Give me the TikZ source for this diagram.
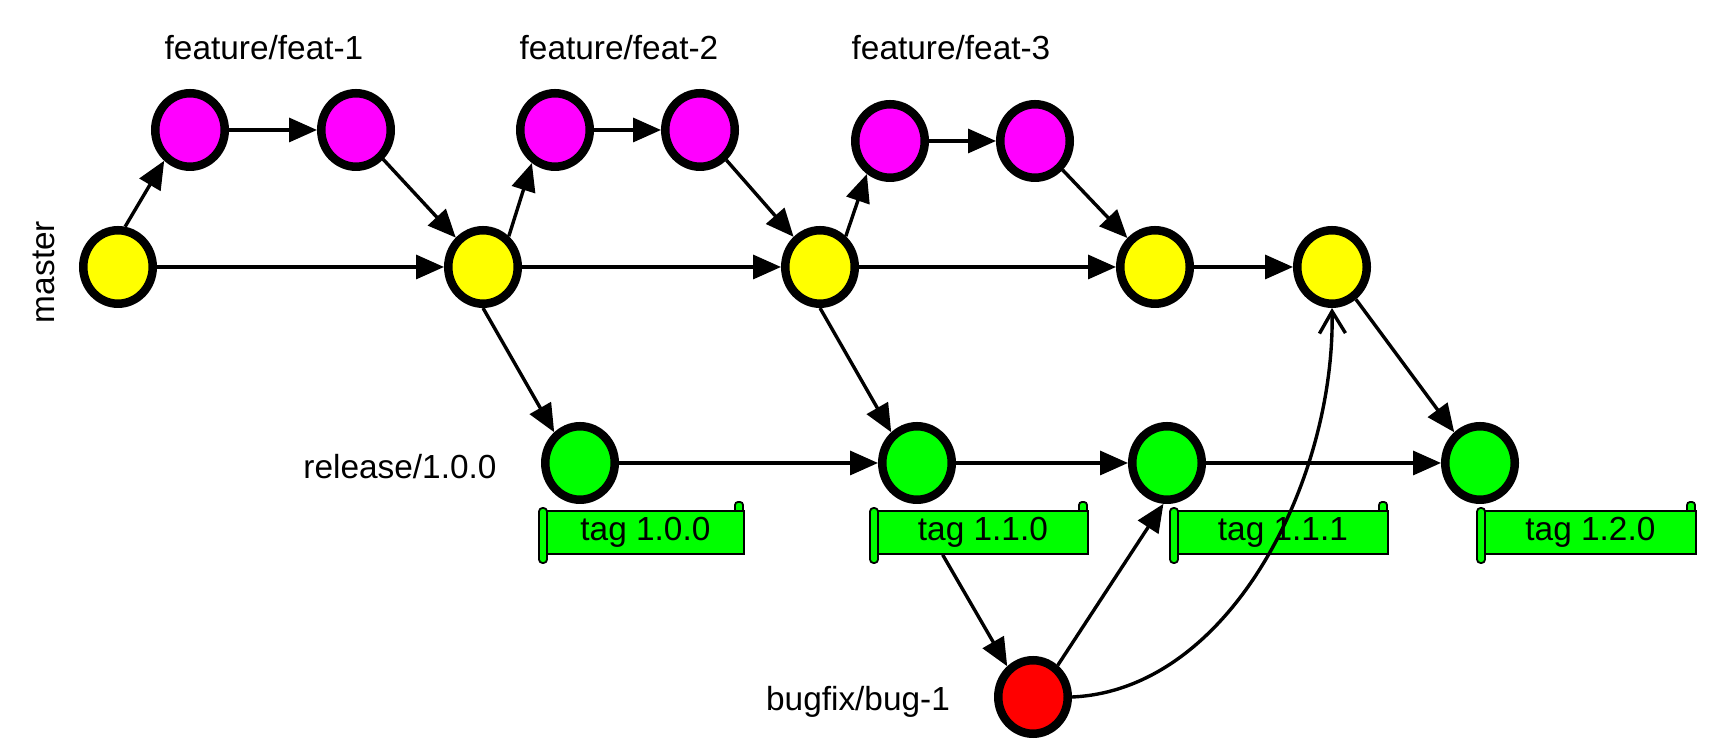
\documentclass[tikz,border=0pt]{standalone}
\usepackage{fontspec}
\setmainfont{Liberation Sans}
\usetikzlibrary{shapes.geometric,arrows.meta,calc}
\definecolor{featmag}{RGB}{255,0,255}
\definecolor{mastyel}{RGB}{255,255,0}
\definecolor{relgreen}{RGB}{0,255,0}
\definecolor{bugred}{RGB}{255,0,0}
\newcommand\tagat[4]{%
  \draw[tagline, rounded corners=0.3mm] (#3-8,502) rectangle (#3,514);
  \node[tagbox, minimum width={(#3-#2)*0.1mm}] (#1) at (#2,510) {#4\hspace{2.4mm}};
  \draw[tagline, rounded corners=0.35mm] (#2-7,508) rectangle (#2+1,563);
}
\begin{document}
\begin{tikzpicture}[x=0.1mm,y=-0.1mm,
  commit/.style={ellipse, draw=black, line width=0.85mm, minimum width=6.95mm, minimum height=7.35mm, inner sep=0pt},
  feat/.style={commit, fill=featmag},
  mast/.style={commit, fill=mastyel},
  rel/.style={commit, fill=relgreen},
  bug/.style={commit, fill=bugred},
  edge/.style={line width=0.34mm, -{Triangle[length=2.8mm,width=2.4mm]}},
  mergecurve/.style={line width=0.34mm, -{Straight Barb[length=2.2mm,width=2.6mm,line width=0.34mm]}},
  lbl/.style={font=\fontsize{9.5}{11.4}\selectfont, inner sep=0pt},
  tagline/.style={draw=black, fill=relgreen, line width=0.18mm},
  tagbox/.style={tagline, minimum height=4.3mm, inner sep=0pt, anchor=north west, font=\fontsize{9.5}{11.4}\selectfont},
]
\fill[white] (0,0) rectangle (1725,754);
\useasboundingbox (0,0) rectangle (1725,754);

% labels
\node[lbl] (lf1) at (264,48) {feature/feat-1};
\node[lbl] (lf2) at (619,48) {feature/feat-2};
\node[lbl] (lf3) at (951,48) {feature/feat-3};
\node[lbl, rotate=90] (lm) at (44,272) {master};
\node[lbl] (lr) at (400,467) {release/1.0.0};
\node[lbl] (lb) at (858,702) {bugfix/bug-1};

% tags
\tagat{t1}{546}{743}{tag 1.0.0}
\tagat{t2}{877}{1087}{tag 1.1.0}
\tagat{t3}{1177}{1387}{tag 1.1.1}
\tagat{t4}{1484}{1695}{tag 1.2.0}
\coordinate (t2out) at ($(t2.south west)!0.31!(t2.south east)$);

% commits
\node[mast] (m1) at (118,267) {};
\node[mast] (m2) at (483,267) {};
\node[mast] (m3) at (820,267) {};
\node[mast] (m4) at (1155,267) {};
\node[mast] (m5) at (1332,267) {};
\node[feat] (f1a) at (190,130) {};
\node[feat] (f1b) at (356,130) {};
\node[feat] (f2a) at (555,130) {};
\node[feat] (f2b) at (700,130) {};
\node[feat] (f3a) at (890,141) {};
\node[feat] (f3b) at (1035,141) {};
\node[rel] (g1) at (580,463) {};
\node[rel] (g2) at (917,463) {};
\node[rel] (g3) at (1167,463) {};
\node[rel] (g4) at (1480,463) {};
\node[bug] (red) at (1033,697) {};

% connectors
\draw[edge] (m1.80) -- (f1a.230);
\draw[edge] (f1a) -- (f1b);
\draw[edge] (f1b) -- (m2);
\draw[edge] (m1) -- (m2);
\draw[edge] (m2.50) -- (f2a.235);
\draw[edge] (f2a) -- (f2b);
\draw[edge] (f2b) -- (m3);
\draw[edge] (m2) -- (m3);
\draw[edge] (m2.south) -- (g1.130);
\draw[edge] (m3.50) -- (f3a.235);
\draw[edge] (f3a) -- (f3b);
\draw[edge] (f3b) -- (m4);
\draw[edge] (m3) -- (m4);
\draw[edge] (m4) -- (m5);
\draw[edge] (m3.south) -- (g2.130);
\draw[edge] (g1) -- (g2);
\draw[edge] (g2) -- (g3);
\draw[edge] (g3) -- (g4);
\draw[edge] (m5) -- (g4.130);
\draw[edge] (t2out) -- (red.130);
\draw[edge] (red.52) -- (g3.265);
\draw[mergecurve] (red.east) .. controls (1230,690) and (1335,480) .. (m5.south);
\end{tikzpicture}
\end{document}
